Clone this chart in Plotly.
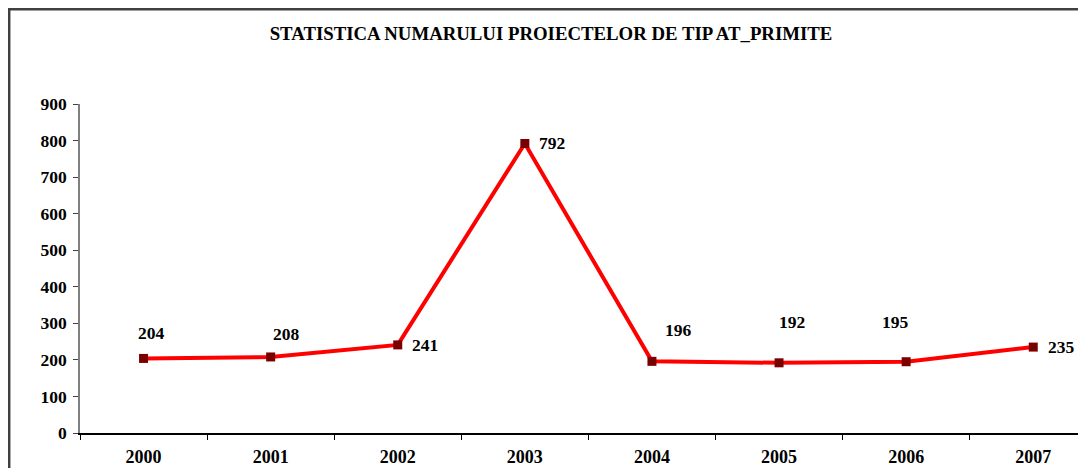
import plotly.graph_objects as go

# data
years = ["2000", "2001", "2002", "2003", "2004", "2005", "2006", "2007"]
proiecte = [204, 208, 241, 792, 196, 192, 195, 235]
y_ticks = [0, 100, 200, 300, 400, 500, 600, 700, 800, 900]

title_text = "STATISTICA NUMARULUI PROIECTELOR DE TIP AT_PRIMITE"

# label placement (pixel offsets from each point), as in the original
label_dx = [8, 16, 27, 27, 27, 13, -11, 28]
label_dy = [25, 23, 0, 0, 31, 41, 40, 0]

FONT = "Liberation Serif, Times New Roman, serif"
# the page body adds an 8px margin, so the figure is 8px smaller
# and every pixel position below is shifted by -8
OFF = 8
W, H = 1086 - OFF, 468 - OFF
ML, MR, MT, MB = 80 - OFF, 0, 104 - OFF, 35
pw = W - ML - MR
ph = H - MT - MB

fig = go.Figure()
fig.add_trace(go.Scatter(
    x=years, y=proiecte, mode="lines+markers",
    line=dict(color="#ff0000", width=4),
    marker=dict(symbol="square", size=9, color="#7a0000"),
    showlegend=False, hoverinfo="x+y",
))

for i, (v, dx, dy) in enumerate(zip(proiecte, label_dx, label_dy)):
    fig.add_annotation(
        x=i, y=v, xref="x", yref="y", text=str(v), showarrow=False,
        xshift=dx, yshift=dy,
        font=dict(family=FONT, size=17.5, color="black", weight="bold"),
    )

# outer chart frame (only left/top edges fall inside the window)
fig.add_shape(
    type="rect", xref="paper", yref="paper",
    x0=(1.2 - ML) / pw, x1=(W + 20 - ML) / pw,
    y0=-(MB + 20) / ph, y1=(H - MB - 1.2) / ph,
    line=dict(color="#404040", width=2.5), fillcolor="rgba(0,0,0,0)",
    layer="below",
)

fig.update_layout(
    width=W, height=H,
    margin=dict(l=ML, r=MR, t=MT, b=MB, autoexpand=False),
    paper_bgcolor="white", plot_bgcolor="white",
    font=dict(family=FONT, color="black"),
    title=dict(
        text=title_text,
        x=(551 - OFF) / W, xanchor="center", xref="container",
        y=1 - (33 - OFF) / H, yanchor="middle", yref="container",
        font=dict(family=FONT, size=18.8, color="black", weight="bold"),
    ),
    xaxis=dict(
        type="category", range=[-0.5, 7.415], automargin=False,
        showgrid=False, zeroline=False,
        showline=True, linecolor="black", linewidth=1.5,
        ticks="outside", tickson="boundaries", ticklen=5, tickcolor="black",
        tickfont=dict(family=FONT, size=18, color="black", weight="bold"),
        ticklabelstandoff=7,
    ),
    yaxis=dict(
        range=[0, 900], tickvals=y_ticks, automargin=False,
        showgrid=False, zeroline=False,
        showline=True, linecolor="#808080", linewidth=1.5,
        ticks="outside", ticklen=5, tickcolor="#404040",
        tickfont=dict(family=FONT, size=17.5, color="black", weight="bold"),
        ticklabelstandoff=3,
    ),
)

fig.write_html("out.html")
